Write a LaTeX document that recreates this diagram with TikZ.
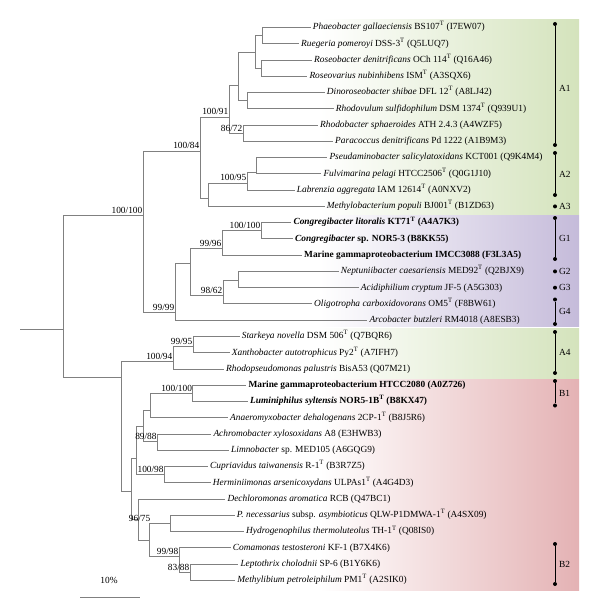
\documentclass[tikz,border=0pt]{standalone}
\usepackage{fontspec}
\setmainfont{Liberation Serif}
\definecolor{treeg}{RGB}{128,128,128}
\definecolor{bandgreen}{RGB}{212,227,188}
\definecolor{bandpurple}{RGB}{197,187,218}
\definecolor{bandpink}{RGB}{228,178,180}
\newcommand{\Tsup}{\textsuperscript{T}}
\tikzset{
 br/.style={draw=treeg, line width=0.95bp},
 leaf/.style={anchor=west, inner xsep=2bp, inner ysep=0pt, text height=6.8bp, text depth=2.2bp, font=\fontsize{9.4}{11}\selectfont},
 boot/.style={anchor=base east, inner sep=0pt, yshift=2bp, xshift=-0.5bp, font=\fontsize{9.4}{11}\selectfont},
 grp/.style={anchor=west, inner sep=0pt, font=\fontsize{9.4}{11}\selectfont},
 bar/.style={draw=black, line width=0.9bp},
 pin/.style={circle, fill=black, inner sep=0pt, minimum size=4bp},
}
\begin{document}
\begin{tikzpicture}[x=1bp,y=-1bp]
\useasboundingbox (0,0) rectangle (600,613);
% bands
\shade[left color=white, right color=bandgreen] (320,20) rectangle (579,214);
\shade[left color=white, right color=bandpurple] (320,215.5) rectangle (579,326.5);
\shade[left color=white, right color=bandgreen] (320,328) rectangle (579,378);
\shade[left color=white, right color=bandpink] (320,379.5) rectangle (579,590);

% internal nodes
\coordinate (stub) at (20,329);
\coordinate (root) at (63,329);
\coordinate (U) at (143,215);
\coordinate (A) at (200,151);
\coordinate (n229) at (229,117);
\coordinate (n238) at (238,85);
\coordinate (n255) at (255,52);
\coordinate (PR) at (262,35.6);
\coordinate (RR) at (261,68.2);
\coordinate (DR) at (247,100.7);
\coordinate (RP) at (243,133.2);
\coordinate (A23) at (208,198);
\coordinate (A2) at (247,183);
\coordinate (PF) at (256,172);
\coordinate (G) at (175,312);
\coordinate (n190) at (190,263);
\coordinate (G1) at (222,248);
\coordinate (CC) at (261,230.7);
\coordinate (G234) at (223,295);
\coordinate (NA) at (238,280);
\coordinate (L) at (121,377);
\coordinate (A4) at (173,361);
\coordinate (SX) at (193,346.7);
\coordinate (n131) at (131.7,491.7);
\coordinate (n136) at (136,458);
\coordinate (n143) at (143.3,426.7);
\coordinate (n150) at (150.7,410.7);
\coordinate (B1) at (192.7,393.3);
\coordinate (n157) at (157.3,441.7);
\coordinate (n164) at (164.3,474.7);
\coordinate (n138) at (138,519);
\coordinate (n149) at (149,540);
\coordinate (n170) at (170,523.4);
\coordinate (n179) at (179,556);
\coordinate (n190b) at (190,572.2);

% leaves
\node[leaf] (l1) at (310.7,27.5) {\textit{Phaeobacter gallaeciensis} BS107\Tsup\ (I7EW07)};
\node[leaf] (l2) at (299,43.8) {\textit{Ruegeria pomeroyi} DSS-3\Tsup\ (Q5LUQ7)};
\node[leaf] (l3) at (312,60.0) {\textit{Roseobacter denitrificans} OCh 114\Tsup\ (Q16A46)};
\node[leaf] (l4) at (307.3,76.3) {\textit{Roseovarius nubinhibens} ISM\Tsup\ (A3SQX6)};
\node[leaf] (l5) at (324.7,92.5) {\textit{Dinoroseobacter shibae} DFL 12\Tsup\ (A8LJ42)};
\node[leaf] (l6) at (333.7,108.8) {\textit{Rhodovulum sulfidophilum} DSM 1374\Tsup\ (Q939U1)};
\node[leaf] (l7) at (318,125.1) {\textit{Rhodobacter sphaeroides} ATH 2.4.3 (A4WZF5)};
\node[leaf] (l8) at (333,141.3) {\textit{Paracoccus denitrificans} Pd 1222 (A1B9M3)};
\node[leaf] (l9) at (327.3,157.6) {\textit{Pseudaminobacter salicylatoxidans} KCT001 (Q9K4M4)};
\node[leaf] (l10) at (321.3,173.8) {\textit{Fulvimarina pelagi} HTCC2506\Tsup\ (Q0G1J10)};
\node[leaf] (l11) at (294.7,190.1) {\textit{Labrenzia aggregata} IAM 12614\Tsup\ (A0NXV2)};
\node[leaf] (l12) at (324.7,206.4) {\textit{Methylobacterium populi} BJ001\Tsup\ (B1ZD63)};
\node[leaf] (l13) at (291.3,222.6) {\textbf{\textit{Congregibacter litoralis} KT71\Tsup\ (A4A7K3)}};
\node[leaf] (l14) at (293,238.9) {\textbf{\textit{Congregibacter} sp. NOR5-3 (B8KK55)}};
\node[leaf] (l15) at (302,255.1) {\textbf{Marine gammaproteobacterium IMCC3088 (F3L3A5)}};
\node[leaf] (l16) at (338.7,271.4) {\textit{Neptuniibacter caesariensis} MED92\Tsup\ (Q2BJX9)};
\node[leaf] (l17) at (358.7,287.7) {\textit{Acidiphilium cryptum} JF-5 (A5G303)};
\node[leaf] (l18) at (312,303.9) {\textit{Oligotropha carboxidovorans} OM5\Tsup\ (F8BW61)};
\node[leaf] (l19) at (367.3,320.2) {\textit{Arcobacter butzleri} RM4018 (A8ESB3)};
\node[leaf] (l20) at (239.7,336.4) {\textit{Starkeya novella} DSM 506\Tsup\ (Q7BQR6)};
\node[leaf] (l21) at (229.7,352.7) {\textit{Xanthobacter autotrophicus} Py2\Tsup\ (A7IFH7)};
\node[leaf] (l22) at (224,369.0) {\textit{Rhodopseudomonas palustris} BisA53 (Q07M21)};
\node[leaf] (l23) at (246.3,385.2) {\textbf{Marine gammaproteobacterium HTCC2080 (A0Z726)}};
\node[leaf] (l24) at (248,401.5) {\textbf{\textit{Luminiphilus syltensis} NOR5-1B\Tsup\ (B8KX47)}};
\node[leaf] (l25) at (228,417.7) {\textit{Anaeromyxobacter dehalogenans} 2CP-1\Tsup\ (B8J5R6)};
\node[leaf] (l26) at (211.3,434.0) {\textit{Achromobacter xylosoxidans} A8 (E3HWB3)};
\node[leaf] (l27) at (229,450.3) {\textit{Limnobacter} sp. MED105 (A6GQG9)};
\node[leaf] (l28) at (208,466.5) {\textit{Cupriavidus taiwanensis} R-1\Tsup\ (B3R7Z5)};
\node[leaf] (l29) at (210.7,482.8) {\textit{Herminiimonas arsenicoxydans} ULPAs1\Tsup\ (A4G4D3)};
\node[leaf] (l30) at (225.3,499.0) {\textit{Dechloromonas aromatica} RCB (Q47BC1)};
\node[leaf] (l31) at (234.7,515.3) {\textit{P. necessarius} subsp. \textit{asymbioticus} QLW-P1DMWA-1\Tsup\ (A4SX09)};
\node[leaf] (l32) at (244,531.6) {\textit{Hydrogenophilus thermoluteolus} TH-1\Tsup\ (Q08IS0)};
\node[leaf] (l33) at (230.7,547.8) {\textit{Comamonas testosteroni} KF-1 (B7X4K6)};
\node[leaf] (l34) at (238.3,564.1) {\textit{Leptothrix cholodnii} SP-6 (B1Y6K6)};
\node[leaf] (l35) at (235.2,580.3) {\textit{Methylibium petroleiphilum} PM1\Tsup\ (A2SIK0)};

% branches
\draw[br] (stub) -- (root);
\draw[br] (root) |- (U); \draw[br] (root) |- (L);
\draw[br] (U) |- (A); \draw[br] (U) |- (G);
\draw[br] (A) |- (n229); \draw[br] (A) |- (A23);
\draw[br] (n229) |- (n238); \draw[br] (n229) |- (RP);
\draw[br] (n238) |- (n255); \draw[br] (n238) |- (DR);
\draw[br] (n255) |- (PR); \draw[br] (n255) |- (RR);
\draw[br] (PR) |- (l1.west); \draw[br] (PR) |- (l2.west);
\draw[br] (RR) |- (l3.west); \draw[br] (RR) |- (l4.west);
\draw[br] (DR) |- (l5.west); \draw[br] (DR) |- (l6.west);
\draw[br] (RP) |- (l7.west); \draw[br] (RP) |- (l8.west);
\draw[br] (A23) |- (A2); \draw[br] (A23) |- (l12.west);
\draw[br] (A2) |- (PF); \draw[br] (A2) |- (l11.west);
\draw[br] (PF) |- (l9.west); \draw[br] (PF) |- (l10.west);
\draw[br] (G) |- (n190); \draw[br] (G) |- (l19.west);
\draw[br] (n190) |- (G1); \draw[br] (n190) |- (G234);
\draw[br] (G1) |- (CC); \draw[br] (G1) |- (l15.west);
\draw[br] (CC) |- (l13.west); \draw[br] (CC) |- (l14.west);
\draw[br] (G234) |- (NA); \draw[br] (G234) |- (l18.west);
\draw[br] (NA) |- (l16.west); \draw[br] (NA) |- (l17.west);
\draw[br] (L) |- (A4); \draw[br] (L) |- (n131);
\draw[br] (A4) |- (SX); \draw[br] (A4) |- (l22.west);
\draw[br] (SX) |- (l20.west); \draw[br] (SX) |- (l21.west);
\draw[br] (n131) |- (n136); \draw[br] (n131) |- (n138);
\draw[br] (n136) |- (n143); \draw[br] (n136) |- (n164);
\draw[br] (n143) |- (n150); \draw[br] (n143) |- (n157);
\draw[br] (n150) |- (B1); \draw[br] (n150) |- (l25.west);
\draw[br] (B1) |- (l23.west); \draw[br] (B1) |- (l24.west);
\draw[br] (n157) |- (l26.west); \draw[br] (n157) |- (l27.west);
\draw[br] (n164) |- (l28.west); \draw[br] (n164) |- (l29.west);
\draw[br] (n138) |- (l30.west); \draw[br] (n138) |- (n149);
\draw[br] (n149) |- (n170); \draw[br] (n149) |- (n179);
\draw[br] (n170) |- (l31.west); \draw[br] (n170) |- (l32.west);
\draw[br] (n179) |- (l33.west); \draw[br] (n179) |- (n190b);
\draw[br] (n190b) |- (l34.west); \draw[br] (n190b) |- (l35.west);

% bootstrap labels
\node[boot] (bU) at (U) {100/100};
\node[boot] (bA) at (A) {100/84};
\node[boot] (b229) at (n229) {100/91};
\node[boot] (bRP) at (RP) {86/72};
\node[boot] (bA2) at (A2) {100/95};
\node[boot] (bG) at (G) {99/99};
\node[boot] (bG1) at (G1) {99/96};
\node[boot] (bCC) at (CC) {100/100};
\node[boot] (bG234) at (G234) {98/62};
\node[boot] (bA4) at (A4) {100/94};
\node[boot] (bSX) at (SX) {99/95};
\node[boot] (bB1) at (B1) {100/100};
\node[boot] (b157) at (n157) {89/88};
\node[boot] (b164) at (n164) {100/98};
\node[boot, xshift=2bp] (b149) at (n149 |- n170) {96/75};
\node[boot] (b179) at (n179) {99/98};
\node[boot] (b190b) at (n190b) {83/88};

% group bars
\node[pin] (a1t) at (555,24) {}; \node[pin] (a1b) at (555,145) {};
\draw[bar] (a1t) -- (a1b); \node[grp] (gA1) at (559,88) {A1};
\node[pin] (a2t) at (555,153) {}; \node[pin] (a2b) at (555,195) {};
\draw[bar] (a2t) -- (a2b); \node[grp] (gA2) at (559,174) {A2};
\node[pin] (a3) at (555,206.4) {}; \node[grp] (gA3) at (559,206.4) {A3};
\node[pin] (g1t) at (555,218) {}; \node[pin] (g1b) at (555,259) {};
\draw[bar] (g1t) -- (g1b); \node[grp] (gG1) at (559,238.5) {G1};
\node[pin] (g2) at (555,271.4) {}; \node[grp] (gG2) at (559,271.4) {G2};
\node[pin] (g3) at (555,287.7) {}; \node[grp] (gG3) at (559,287.7) {G3};
\node[pin] (g4t) at (555,299.5) {}; \node[pin] (g4b) at (555,324) {};
\draw[bar] (g4t) -- (g4b); \node[grp] (gG4) at (559,311.7) {G4};
\node[pin] (a4t) at (555,332) {}; \node[pin] (a4b) at (555,373) {};
\draw[bar] (a4t) -- (a4b); \node[grp] (gA4) at (559,352.7) {A4};
\node[pin] (b1t) at (555,381) {}; \node[pin] (b1b) at (555,405.5) {};
\draw[bar] (b1t) -- (b1b); \node[grp] (gB1) at (559,393) {B1};
\node[pin] (b2t) at (555,544) {}; \node[pin] (b2b) at (555,584) {};
\draw[bar] (b2t) -- (b2b); \node[grp] (gB2) at (559,564) {B2};

% scale bar
\node[font=\fontsize{9.4}{11}\selectfont] (sbl) at (109,580) {10\%};
\coordinate (sb1) at (80,597); \coordinate (sb2) at (140,597);
\draw[br] (sb1) -- (sb2);
\end{tikzpicture}
\end{document}
